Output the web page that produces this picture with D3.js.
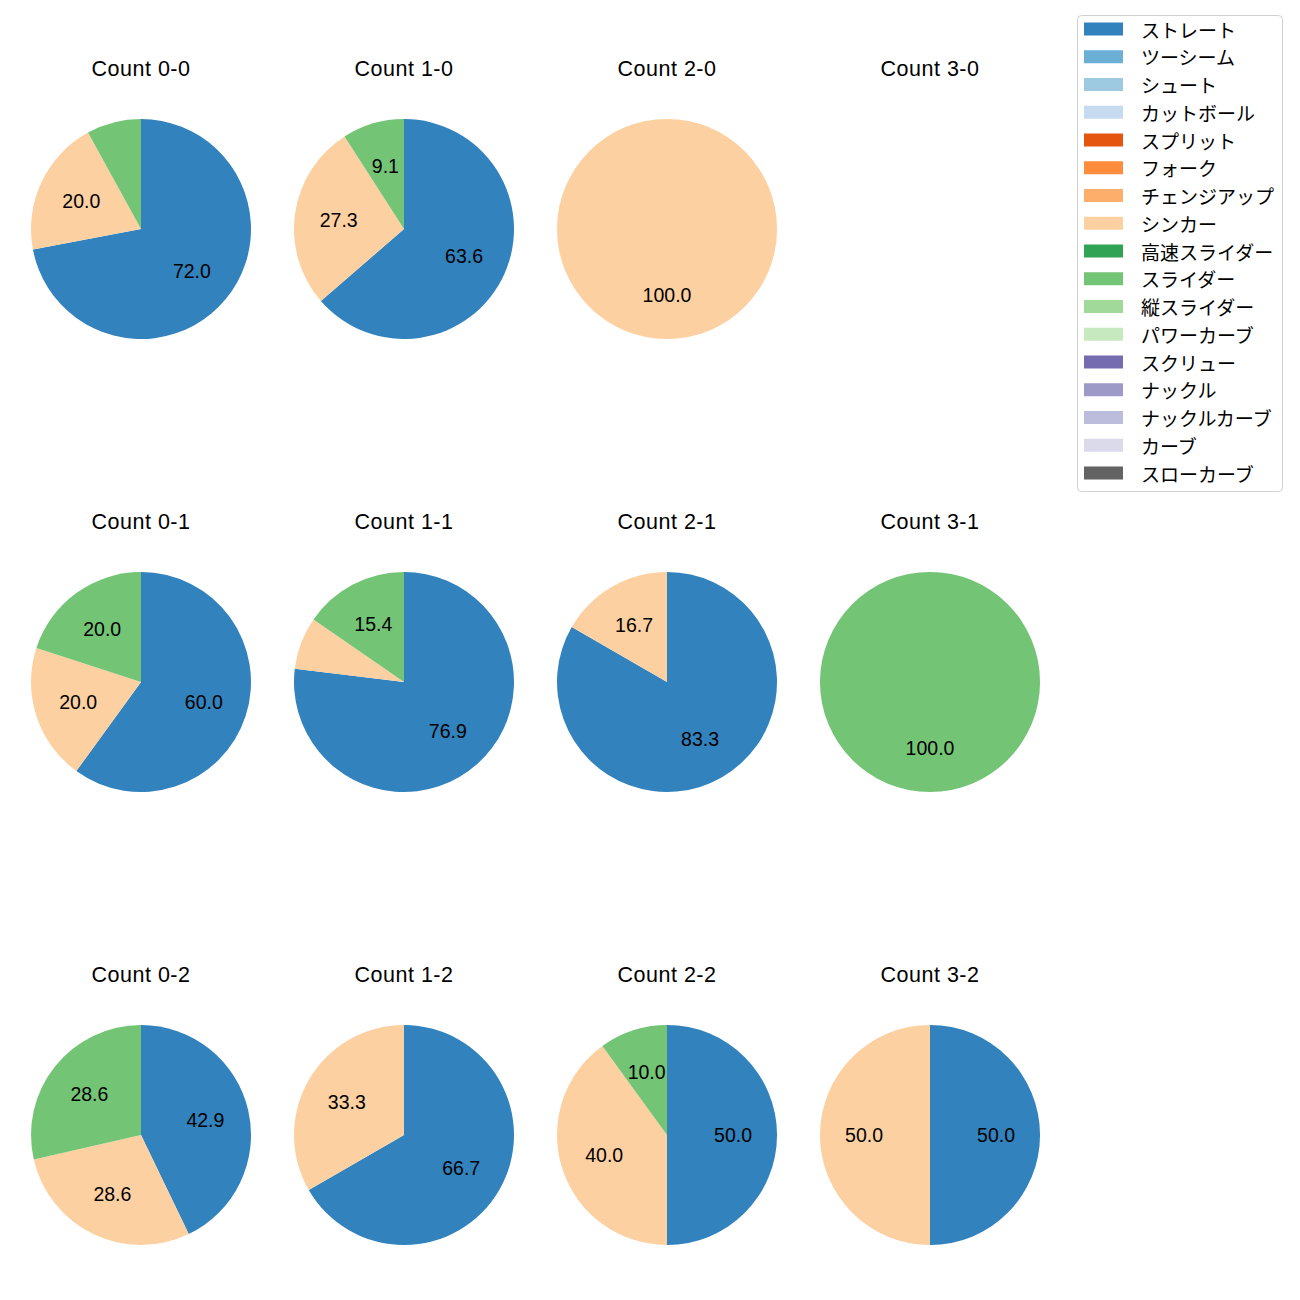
<!DOCTYPE html>
<html><head><meta charset="utf-8">
<script src="https://cdn.jsdelivr.net/npm/d3@7"></script>
<style>body{margin:0;background:#fff}svg{display:block}text{font-family:"Liberation Sans","Noto Sans CJK JP",sans-serif}</style>
</head><body>
<script>
const pitchTypes = ["ストレート","ツーシーム","シュート","カットボール","スプリット","フォーク","チェンジアップ","シンカー","高速スライダー","スライダー","縦スライダー","パワーカーブ","スクリュー","ナックル","ナックルカーブ","カーブ","スローカーブ"];
const pitchColors = ["#3182bd","#6baed6","#9ecae1","#c6dbef","#e6550d","#fd8d3c","#fdae6b","#fdd0a2","#31a354","#74c476","#a1d99b","#c7e9c0","#756bb1","#9e9ac8","#bcbddc","#dadaeb","#636363"];
const countLabels = ["Count 0-0","Count 1-0","Count 2-0","Count 3-0","Count 0-1","Count 1-1","Count 2-1","Count 3-1","Count 0-2","Count 1-2","Count 2-2","Count 3-2"];
// pitch counts per count situation: [ストレート, シンカー, スライダー]
const straightCounts = [18, 7, 0, 0, 3, 10, 5, 0, 3, 2, 5, 1];
const sinkerCounts   = [5, 3, 1, 0, 1, 1, 1, 0, 2, 1, 4, 1];
const sliderCounts   = [2, 1, 0, 0, 1, 2, 0, 1, 2, 0, 1, 0];

const W = 1300, H = 1300;
const svg = d3.select("body").append("svg").attr("width", W).attr("height", H);
const colX = [141, 404, 667, 930];
const rowY = [229, 682, 1135];
const R = 110;
const color = d3.scaleOrdinal().domain(pitchTypes).range(pitchColors);

const pie = d3.pie().sort(null).value(d => d.v).startAngle(0).endAngle(2 * Math.PI);
const arc = d3.arc().innerRadius(0).outerRadius(R);
const labelArc = d3.arc().innerRadius(R * 0.6).outerRadius(R * 0.6);

countLabels.forEach((lab, i) => {
  const cx = colX[i % 4], cy = rowY[Math.floor(i / 4)];
  const g = svg.append("g").attr("transform", `translate(${cx},${cy})`);
  g.append("text").attr("x", 0).attr("y", -160).attr("text-anchor", "middle")
    .attr("dominant-baseline", "central").attr("font-size", 21.5).attr("letter-spacing", 0.5)
    .attr("fill", "#000").text(lab);
  const data = [
    {k: "ストレート", v: straightCounts[i]},
    {k: "シンカー", v: sinkerCounts[i]},
    {k: "スライダー", v: sliderCounts[i]}
  ].filter(d => d.v > 0);
  const total = d3.sum(data, d => d.v);
  if (total === 0) return;
  const arcs = pie(data);
  g.selectAll("path").data(arcs).join("path").attr("d", arc).attr("fill", d => color(d.data.k));
  g.selectAll("text.lbl").data(arcs).join("text").attr("class", "lbl")
    .attr("transform", d => `translate(${labelArc.centroid(d)})`)
    .attr("text-anchor", "middle").attr("dominant-baseline", "central")
    .attr("font-size", 19.5).attr("fill", "#000")
    .text(d => { const p = d.data.v / total * 100; return p >= 9 ? p.toFixed(1) : ""; });
});

// legend
const lg = svg.append("g");
lg.append("rect").attr("x", 1077.5).attr("y", 15.5).attr("width", 205).attr("height", 476)
  .attr("rx", 4).attr("fill", "#fff").attr("stroke", "#d0d0d0").attr("stroke-width", 1);
const step = 27.75;
pitchTypes.forEach((t, j) => {
  const y = 29 + j * step;
  lg.append("rect").attr("x", 1084).attr("y", y - 6.5).attr("width", 39).attr("height", 13).attr("fill", color(t));
  lg.append("text").attr("x", 1141).attr("y", y).attr("dominant-baseline", "central")
    .style("font-family", "'Noto Sans CJK JP',sans-serif")
    .attr("font-size", 19).attr("fill", "#000").text(t);
});
</script>
</body></html>
